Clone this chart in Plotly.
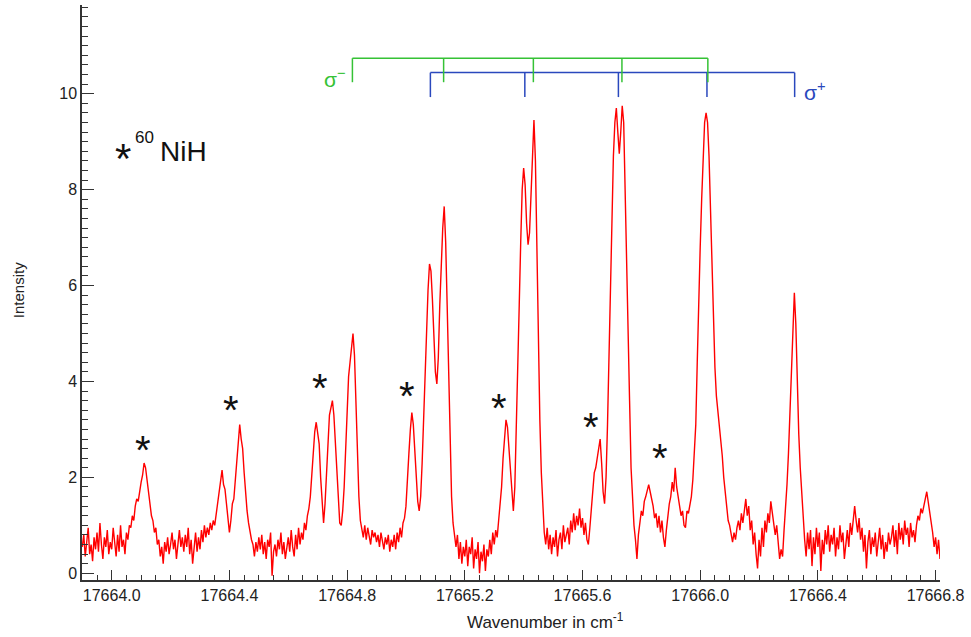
import numpy as np
import plotly.graph_objects as go

# ---------------- data ----------------
WN_START = 17663.900   # cm^-1, first sample
WN_STEP = 0.005        # cm^-1, sample spacing

intensity = [
    # 17663.900
    0.55, 0.80, 0.35, 0.70, 0.95, 0.40, 0.60, 0.25, 0.75, 0.50,
    # 17663.950
    0.85, 0.45, 1.05, 0.60, 0.30, 0.75, 0.55, 0.90, 0.40, 0.65,
    # 17664.000
    0.50, 0.95, 0.60, 0.35, 0.80, 0.45, 1.00, 0.55, 0.70, 0.40,
    # 17664.050
    0.85, 0.70, 1.00, 0.95, 1.20, 1.10, 1.40, 1.55, 1.50, 1.75,
    # 17664.100
    1.90, 2.05, 2.30, 2.20, 1.95, 1.65, 1.45, 1.20, 1.10, 0.85,
    # 17664.150
    0.95, 0.60, 0.70, 0.35, 0.55, 0.20, 0.65, 0.45, 0.75, 0.40,
    # 17664.200
    0.60, 0.85, 0.50, 0.70, 0.30, 0.65, 0.90, 0.55, 0.75, 0.45,
    # 17664.250
    0.80, 0.55, 0.95, 0.40, 0.70, 0.20, 0.60, 0.85, 0.45, 0.75,
    # 17664.300
    0.50, 0.90, 0.65, 1.00, 0.75, 0.95, 0.80, 1.05, 0.90, 1.10,
    # 17664.350
    1.00, 1.25, 1.45, 1.75, 1.90, 2.15, 1.85, 1.75, 1.45, 1.20,
    # 17664.400
    0.85, 1.10, 1.45, 1.55, 1.90, 2.35, 2.75, 3.10, 2.80, 2.60,
    # 17664.450
    2.10, 1.65, 1.30, 1.05, 0.85, 0.70, 0.60, 0.35, 0.65, 0.45,
    # 17664.500
    0.75, 0.50, 0.80, 0.40, 0.65, 0.30, 0.70, 0.55, 0.85, -0.05,
    # 17664.550
    0.45, 0.60, 0.35, 0.70, 0.50, 0.85, 0.40, 0.65, 0.30, 0.60,
    # 17664.600
    0.75, 0.45, 0.90, 0.55, 0.35, 0.80, 0.50, 0.95, 0.60, 0.85,
    # 17664.650
    0.70, 1.05, 0.90, 1.20, 1.35, 1.60, 2.10, 2.60, 2.95, 3.15,
    # 17664.700
    2.95, 2.70, 2.00, 1.40, 1.05, 1.45, 2.10, 2.70, 3.30, 3.45,
    # 17664.750
    3.60, 3.30, 2.75, 2.05, 1.45, 1.05, 1.00, 1.30, 1.80, 2.60,
    # 17664.800
    3.40, 4.10, 4.40, 4.75, 5.00, 4.55, 3.60, 2.50, 1.60, 1.10,
    # 17664.850
    0.90, 0.75, 1.00, 0.70, 0.95, 0.80, 0.60, 0.90, 0.75, 0.85,
    # 17664.900
    0.65, 0.80, 0.55, 0.85, 0.70, 0.50, 0.75, 0.60, 0.80, 0.45,
    # 17664.950
    0.70, 0.55, 0.80, 0.50, 0.85, 0.65, 0.95, 0.75, 1.05, 1.15,
    # 17665.000
    1.40, 1.85, 2.50, 3.00, 3.35, 3.10, 2.60, 2.00, 1.50, 1.30,
    # 17665.050
    1.60, 2.30, 3.30, 4.40, 5.30, 5.90, 6.45, 6.30, 5.70, 5.00,
    # 17665.100
    4.20, 3.95, 4.50, 5.60, 6.60, 7.20, 7.65, 6.90, 5.60, 4.10,
    # 17665.150
    2.60, 1.60, 1.05, 0.75, 0.55, 0.80, 0.30, 0.65, 0.20, 0.55,
    # 17665.200
    0.35, 0.70, 0.15, 0.55, 0.40, 0.75, 0.10, 0.50, 0.30, 0.65,
    # 17665.250
    0.00, 0.45, 0.25, 0.60, 0.05, 0.50, 0.35, 0.70, 0.40, 0.85,
    # 17665.300
    0.60, 0.90, 0.75, 1.10, 1.40, 1.80, 2.40, 2.90, 3.20, 3.05,
    # 17665.350
    2.60, 2.10, 1.55, 1.30, 1.80, 2.90, 4.20, 5.60, 6.90, 8.00,
    # 17665.400
    8.45, 8.10, 7.30, 6.85, 7.10, 7.90, 8.80, 9.45, 8.60, 6.80,
    # 17665.450
    4.60, 3.20, 2.10, 1.30, 0.85, 0.60, 0.95, 0.50, 0.80, 0.40,
    # 17665.500
    0.75, 0.55, 0.90, 0.35, 0.70, 0.85, 0.50, 1.00, 0.65, 0.80,
    # 17665.550
    0.95, 0.60, 1.10, 0.85, 1.25, 0.90, 1.20, 1.00, 1.35, 0.95,
    # 17665.600
    1.15, 0.80, 1.05, 0.70, 0.60, 0.95, 1.40, 1.70, 2.10, 2.20,
    # 17665.650
    2.40, 2.60, 2.80, 2.30, 1.70, 1.45, 2.00, 3.10, 4.60, 6.20,
    # 17665.700
    7.70, 8.70, 9.40, 9.70, 9.20, 8.75, 9.20, 9.75, 9.40, 8.10,
    # 17665.750
    6.50, 5.20, 3.60, 2.20, 1.40, 1.00, 0.70, 0.30, 0.80, 1.10,
    # 17665.800
    1.30, 1.20, 1.50, 1.60, 1.75, 1.85, 1.70, 1.55, 1.40, 1.15,
    # 17665.850
    1.25, 0.95, 1.20, 0.85, 1.10, 0.75, 0.55, 0.90, 1.20, 1.45,
    # 17665.900
    1.60, 1.90, 1.70, 2.20, 1.80, 1.60, 1.40, 1.20, 1.30, 1.00,
    # 17665.950
    0.95, 1.30, 1.25, 1.45, 1.60, 1.95, 2.50, 3.10, 4.40, 5.80,
    # 17666.000
    6.80, 7.80, 8.80, 9.40, 9.60, 9.40, 8.70, 7.60, 6.40, 5.20,
    # 17666.050
    4.30, 3.70, 3.40, 3.00, 2.70, 2.45, 2.00, 1.65, 1.40, 1.10,
    # 17666.100
    1.00, 0.80, 0.65, 0.85, 0.70, 0.95, 1.10, 0.90, 1.25, 1.05,
    # 17666.150
    1.35, 1.55, 1.20, 1.40, 0.90, 1.10, 0.60, 0.85, 0.40, 0.10,
    # 17666.200
    0.70, 0.35, 0.95, 0.55, 1.10, 0.85, 1.25, 1.05, 1.50, 1.30,
    # 17666.250
    1.05, 0.80, 1.00, 0.55, 0.30, 0.50, 0.35, 0.90, 1.30, 1.85,
    # 17666.300
    2.50, 3.40, 4.40, 5.30, 5.85, 5.20, 3.90, 2.90, 2.20, 1.60,
    # 17666.350
    1.10, 0.70, 0.35, 0.85, 0.50, 0.90, 0.15, 0.75, 0.40, 0.95,
    # 17666.400
    0.55, 0.85, 0.05, 0.70, 0.40, 0.90, 0.60, 1.00, 0.45, 0.80,
    # 17666.450
    0.60, 0.95, 0.35, 0.75, 0.50, 1.00, 0.65, 0.85, 0.30, 0.70,
    # 17666.500
    0.90, 0.55, 1.05, 0.80, 1.20, 1.40, 1.10, 0.85, 1.15, 0.70,
    # 17666.550
    0.95, 0.45, 0.80, 0.10, 0.65, 0.90, 0.40, 0.75, 0.55, 0.85,
    # 17666.600
    0.35, 0.70, 0.95, 0.50, 0.80, 0.30, 0.65, 0.45, 0.85, 0.60,
    # 17666.650
    0.75, 1.00, 0.55, 0.90, 0.40, 1.05, 0.70, 0.95, 0.60, 1.10,
    # 17666.700
    0.80, 0.95, 0.55, 1.05, 0.75, 0.90, 0.65, 1.00, 1.20, 1.10,
    # 17666.750
    1.35, 1.25, 1.45, 1.55, 1.70, 1.50, 1.35, 1.10, 0.85, 0.55,
    # 17666.800
    0.75, 0.40, 0.70, 0.30,
]

# 60NiH lines marked with an asterisk (position, label height)
star_wn = [17664.106, 17664.406, 17664.708, 17665.004, 17665.316, 17665.628, 17665.863]
star_y = [2.69, 3.52, 3.99, 3.82, 3.57, 3.17, 2.53]

# Zeeman component combs
sigma_minus_wn = [17664.818, 17665.128, 17665.433, 17665.734, 17666.026]
sigma_plus_wn = [17665.083, 17665.404, 17665.722, 17666.023, 17666.321]
sigma_minus_y = (10.74, 10.24)   # bar level, tooth end
sigma_plus_y = (10.44, 9.93)

x_tick_vals = [17664.0, 17664.4, 17664.8, 17665.2, 17665.6, 17666.0, 17666.4, 17666.8]
x_tick_text = ["17664.0", "17664.4", "17664.8", "17665.2", "17665.6", "17666.0", "17666.4", "17666.8"]
y_tick_vals = [0, 2, 4, 6, 8, 10]

# ---------------- figure ----------------
wavenumber = np.round(WN_START + WN_STEP * np.arange(len(intensity)), 3)

GREEN = "#35c235"
BLUE = "#2a48bd"
FONT = "Arial, Liberation Sans, sans-serif"
AXC = "#333333"

fig = go.Figure()
fig.add_trace(go.Scatter(
    x=wavenumber, y=intensity, mode="lines",
    line=dict(color="#ff0000", width=1.4), showlegend=False, hoverinfo="skip",
))

shapes = []
def comb(pos, ylev, color):
    shapes.append(dict(type="line", xref="x", yref="y", x0=pos[0], x1=pos[-1],
                       y0=ylev[0], y1=ylev[0], line=dict(color=color, width=1.5)))
    for p in pos:
        shapes.append(dict(type="line", xref="x", yref="y", x0=p, x1=p,
                           y0=ylev[0], y1=ylev[1], line=dict(color=color, width=1.5)))

comb(sigma_plus_wn, sigma_plus_y, BLUE)
comb(sigma_minus_wn, sigma_minus_y, GREEN)

annotations = []
for sx, sy in zip(star_wn, star_y):
    annotations.append(dict(x=sx, y=sy, xref="x", yref="y", text="*", showarrow=False,
                            font=dict(family=FONT, size=40, color="#111111"),
                            xanchor="center", yanchor="middle", yshift=-6))

annotations += [
    dict(x=17664.039, y=8.79, xref="x", yref="y", text="*", showarrow=False,
         font=dict(family=FONT, size=42, color="#111111"), xanchor="center",
         yanchor="middle", yshift=-7),
    dict(x=17664.113, y=9.08, xref="x", yref="y", text="60", showarrow=False,
         font=dict(family=FONT, size=17, color="#111111"), xanchor="center", yanchor="middle"),
    dict(x=17664.0, y=8.79, xref="x", yref="y", text="NiH", showarrow=False,
         font=dict(family=FONT, size=28, color="#111111"), xanchor="left",
         yanchor="middle", xshift=46),
    dict(x=sigma_minus_wn[0], y=10.33, xref="x", yref="y", text="σ<sup>−</sup>",
         showarrow=False, font=dict(family=FONT, size=21, color=GREEN),
         xanchor="right", yanchor="middle", xshift=-4),
    dict(x=sigma_plus_wn[-1], y=10.05, xref="x", yref="y", text="σ<sup>+</sup>",
         showarrow=False, font=dict(family=FONT, size=21, color=BLUE),
         xanchor="left", yanchor="middle", xshift=7),
    dict(x=-0.0746, y=0.504, xref="paper", yref="paper", text="Intensity",
         showarrow=False, textangle=-90, font=dict(family=FONT, size=15, color="#222222"),
         xanchor="center", yanchor="middle"),
    dict(x=0.54, y=-0.072, xref="paper", yref="paper", text="Wavenumber in cm<sup>-1</sup>",
         showarrow=False, font=dict(family=FONT, size=17, color="#222222"),
         xanchor="center", yanchor="middle"),
]

fig.update_layout(
    width=971, height=637,
    margin=dict(l=82, r=31, t=5, b=57, autoexpand=False),
    paper_bgcolor="white", plot_bgcolor="white",
    shapes=shapes, annotations=annotations,
    font=dict(family=FONT, color="#222222"),
)
fig.update_xaxes(
    range=[17663.899, 17666.815], showgrid=False, zeroline=False, automargin=False,
    showline=True, linecolor=AXC, linewidth=1.5,
    ticks="inside", ticklen=10, tickwidth=1.3, tickcolor=AXC,
    tickvals=x_tick_vals, ticktext=x_tick_text,
    tickfont=dict(family=FONT, size=16, color="#222222"),
    minor=dict(dtick=0.05, tick0=17664.0, ticks="inside", ticklen=5, tickwidth=1.3, tickcolor=AXC),
)
fig.update_yaxes(
    range=[-0.14, 11.85], showgrid=False, zeroline=False, automargin=False,
    showline=True, linecolor=AXC, linewidth=1.5,
    ticks="inside", ticklen=12, tickwidth=1.3, tickcolor=AXC,
    tickvals=y_tick_vals, ticktext=[str(v) for v in y_tick_vals],
    tickfont=dict(family=FONT, size=16, color="#222222"),
    minor=dict(dtick=0.2, tick0=0, ticks="inside", ticklen=6, tickwidth=1.3, tickcolor=AXC),
)

fig.write_html("out.html", config={"displayModeBar": False},
               post_script="document.body.style.margin='0px';")
